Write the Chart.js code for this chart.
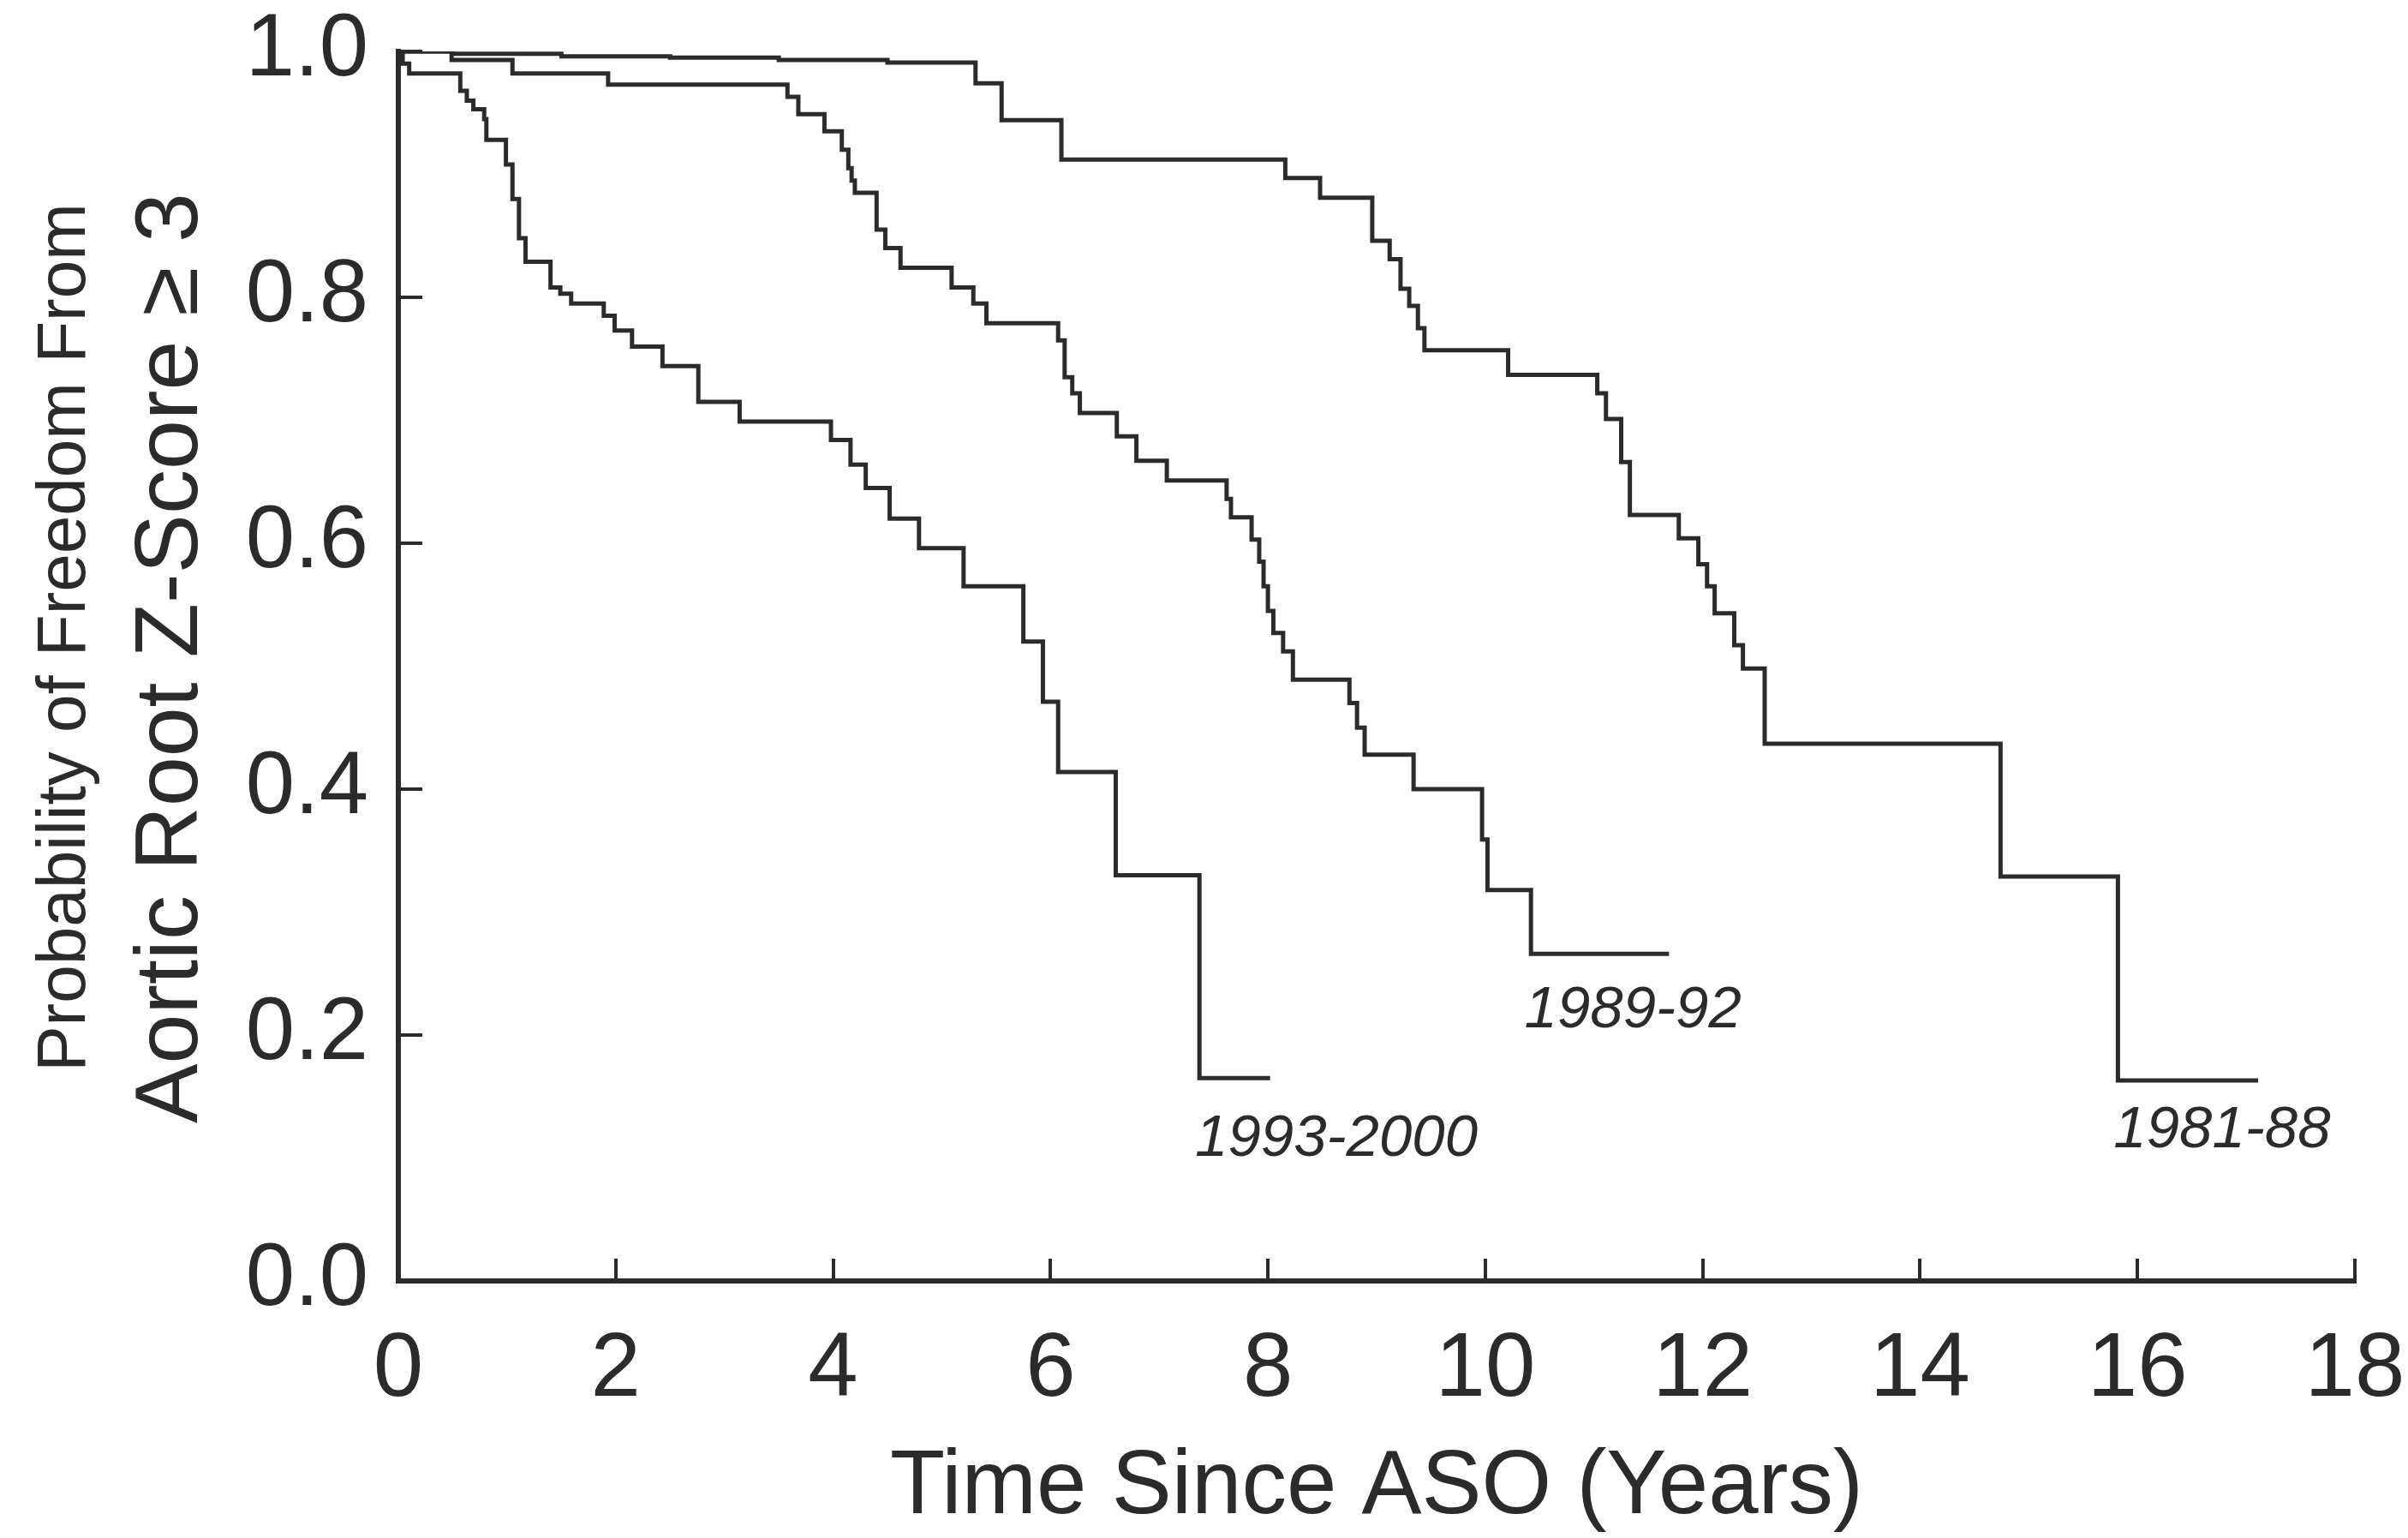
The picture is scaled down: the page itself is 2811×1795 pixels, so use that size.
<!DOCTYPE html>
<html>
<head>
<meta charset="utf-8">
<script src="https://cdn.jsdelivr.net/npm/chart.js@4.4.1/dist/chart.umd.min.js"></script>
<style>
  html, body { margin: 0; padding: 0; background: #ffffff; }
  #c { display: block; }
</style>
</head>
<body>
<canvas id="c" width="2811" height="1795"></canvas>
<script>
// ---------- data ----------
const xTickLabels = ['0', '2', '4', '6', '8', '10', '12', '14', '16', '18'];
const yTickLabels = ['0.0', '0.2', '0.4', '0.6', '0.8', '1.0'];

const seriesNames = ['1981-88', '1989-92', '1993-2000'];

const time1981 = [0, 0.5, 1.5, 2.5, 3.5, 4.5, 5.31, 5.55, 6.10, 8.16, 8.48, 8.96, 9.12, 9.22, 9.30, 9.38, 9.44, 10.21, 11.03, 11.11, 11.25, 11.33, 11.78, 11.96, 12.04, 12.11, 12.29, 12.37, 12.57, 14.74, 15.82, 17.11];
const surv1981 = [1.0, 0.998, 0.996, 0.995, 0.993, 0.991, 0.974, 0.944, 0.912, 0.897, 0.881, 0.846, 0.831, 0.807, 0.793, 0.775, 0.757, 0.737, 0.722, 0.701, 0.666, 0.623, 0.604, 0.583, 0.565, 0.543, 0.517, 0.498, 0.437, 0.329, 0.163, 0.163];

const time1989 = [0, 0.49, 1.05, 1.93, 3.58, 3.68, 3.92, 4.08, 4.14, 4.17, 4.20, 4.40, 4.48, 4.62, 5.09, 5.29, 5.41, 6.07, 6.13, 6.20, 6.27, 6.61, 6.79, 7.07, 7.62, 7.66, 7.85, 7.92, 7.96, 8.00, 8.05, 8.14, 8.23, 8.75, 8.82, 8.89, 9.34, 9.97, 10.02, 10.42, 11.69];
const surv1989 = [1.0, 0.993, 0.982, 0.973, 0.963, 0.949, 0.935, 0.920, 0.905, 0.895, 0.885, 0.855, 0.840, 0.824, 0.808, 0.795, 0.779, 0.765, 0.735, 0.722, 0.706, 0.687, 0.667, 0.651, 0.636, 0.621, 0.603, 0.585, 0.565, 0.545, 0.527, 0.512, 0.489, 0.470, 0.450, 0.428, 0.400, 0.359, 0.318, 0.266, 0.266];

const time1993 = [0, 0.04, 0.10, 0.57, 0.63, 0.69, 0.79, 0.81, 0.99, 1.05, 1.11, 1.17, 1.40, 1.49, 1.59, 1.89, 1.99, 2.15, 2.43, 2.76, 3.14, 3.98, 4.16, 4.30, 4.52, 4.79, 5.20, 5.75, 5.93, 6.07, 6.60, 7.37, 8.02];
const surv1993 = [1.0, 0.990, 0.982, 0.968, 0.960, 0.953, 0.945, 0.928, 0.908, 0.880, 0.848, 0.829, 0.808, 0.803, 0.795, 0.785, 0.773, 0.760, 0.744, 0.715, 0.699, 0.684, 0.664, 0.645, 0.620, 0.596, 0.565, 0.520, 0.471, 0.414, 0.330, 0.165, 0.165];

// label anchor (left end / baseline) for each curve name, in data units
const labelX = [15.78, 10.36, 7.33];
const labelY = [0.109, 0.206, 0.1015];

const xTitle = 'Time Since ASO (Years)';
const yTitleSmall = 'Probability of Freedom From';
const yTitleLarge = 'Aortic Root Z-Score \u2265 3';

// ---------- build chart ----------
function pts(t, s) { return t.map((x, i) => ({ x: x, y: s[i] })); }

const INK = '#2b2b2b';
const SANS = '"Liberation Sans", Arial, Helvetica, sans-serif';

const curveLabels = {
  id: 'curveLabels',
  afterDatasetsDraw(chart) {
    const { ctx, scales } = chart;
    ctx.save();
    ctx.fillStyle = INK;
    ctx.font = 'italic 69px ' + SANS;
    ctx.textAlign = 'left';
    ctx.textBaseline = 'alphabetic';
    seriesNames.forEach((name, i) => {
      ctx.fillText(name, scales.x.getPixelForValue(labelX[i]), scales.y.getPixelForValue(labelY[i]));
    });
    ctx.restore();
  }
};

const yTitles = {
  id: 'yTitles',
  afterDraw(chart) {
    const { ctx } = chart;
    ctx.save();
    ctx.fillStyle = INK;
    ctx.textAlign = 'center';
    ctx.textBaseline = 'alphabetic';
    // small first line
    ctx.save();
    ctx.translate(99, 744);
    ctx.rotate(-Math.PI / 2);
    ctx.font = '80px ' + SANS;
    ctx.fillText(yTitleSmall, 0, 0);
    ctx.restore();
    // large second line
    ctx.save();
    ctx.translate(230, 768);
    ctx.rotate(-Math.PI / 2);
    ctx.font = '104px ' + SANS;
    ctx.fillText(yTitleLarge, 0, 0);
    ctx.restore();
    ctx.restore();
  }
};

const dsStyle = {
  stepped: 'before',
  borderColor: INK,
  borderWidth: 5,
  pointRadius: 0,
  fill: false,
  tension: 0
};

function noEdgePadding(s) {
  s.paddingTop = 0; s.paddingBottom = 0; s.paddingLeft = 0; s.paddingRight = 0;
}

new Chart(document.getElementById('c').getContext('2d'), {
  type: 'line',
  data: {
    datasets: [
      Object.assign({ label: seriesNames[0], data: pts(time1981, surv1981) }, dsStyle),
      Object.assign({ label: seriesNames[1], data: pts(time1989, surv1989) }, dsStyle),
      Object.assign({ label: seriesNames[2], data: pts(time1993, surv1993) }, dsStyle)
    ]
  },
  options: {
    responsive: false,
    animation: false,
    devicePixelRatio: 1,
    layout: { padding: { left: 0, right: 62, top: 60, bottom: 0 } },
    plugins: { legend: { display: false }, tooltip: { enabled: false } },
    scales: {
      x: {
        type: 'linear',
        position: 'bottom',
        min: 0, max: 18,
        afterFit(s) { s.height = 300; noEdgePadding(s); },
        ticks: {
          stepSize: 2,
          autoSkip: false,
          maxRotation: 0,
          padding: 68,
          color: INK,
          font: { family: SANS, size: 105 },
          callback: (v, i) => xTickLabels[i]
        },
        grid: { drawOnChartArea: false, drawTicks: true, tickLength: -26, color: INK, lineWidth: 4 },
        border: { display: true, color: INK, width: 6 },
        title: {
          display: true,
          text: xTitle,
          color: INK,
          font: { family: SANS, size: 105, lineHeight: 1.1 },
          padding: { top: 0, bottom: 0 }
        }
      },
      y: {
        type: 'linear',
        min: 0, max: 1,
        afterFit(s) { s.width = 465; noEdgePadding(s); },
        ticks: {
          stepSize: 0.2,
          padding: 63,
          color: INK,
          font: { family: SANS, size: 103 },
          callback: (v, i) => yTickLabels[i]
        },
        grid: { drawOnChartArea: false, drawTicks: true, tickLength: -28, color: INK, lineWidth: 4 },
        border: { display: true, color: INK, width: 6 }
      }
    }
  },
  plugins: [curveLabels, yTitles]
});
</script>
</body>
</html>
